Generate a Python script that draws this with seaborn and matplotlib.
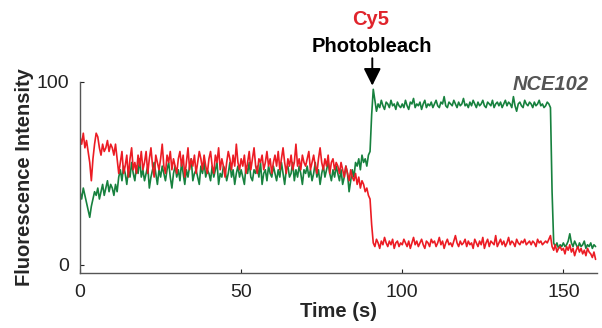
import numpy as np
import pandas as pd
import matplotlib
matplotlib.use("Agg")
import matplotlib.pyplot as plt
import seaborn as sns

# Traces, one value per 0.5 s frame
frame_time = 0.5
red_trace = [
    70, 66, 72, 64, 68, 62, 56, 46, 58, 66, 72, 70, 64, 60, 66, 62, 64, 68, 62, 66,
    64, 60, 66, 58, 50, 56, 62, 50, 54, 60, 48, 58, 64, 52, 56, 50, 60, 54, 62, 52,
    56, 62, 50, 58, 64, 54, 48, 60, 56, 52, 58, 66, 54, 50, 60, 56, 62, 52, 58, 54,
    50, 58, 62, 54, 60, 48, 56, 64, 52, 58, 54, 60, 50, 56, 62, 58, 52, 60, 54, 50,
    58, 62, 54, 50, 60, 56, 64, 52, 58, 54, 48, 56, 62, 58, 52, 60, 54, 66, 56, 52,
    58, 54, 60, 50, 56, 62, 52, 58, 64, 54, 50, 58, 56, 60, 52, 56, 62, 54, 58, 50,
    56, 60, 54, 62, 52, 58, 64, 56, 50, 58, 54, 60, 52, 56, 66, 54, 58, 52, 60, 56,
    54, 58, 62, 52, 56, 60, 54, 50, 58, 64, 56, 52, 58, 54, 60, 50, 56, 58, 52, 56,
    54, 50, 56, 52, 48, 54, 50, 46, 52, 48, 46, 50, 44, 48, 42, 46, 44, 40, 42, 38,
    36, 22, 12, 10, 14, 12, 9, 13, 11, 15, 12, 10, 13, 11, 14, 9, 12, 13, 10, 12,
    11, 14, 12, 10, 13, 9, 12, 15, 11, 13, 10, 12, 14, 11, 9, 13, 12, 10, 14, 12,
    13, 10, 12, 15, 11, 13, 9, 12, 14, 11, 12, 10, 13, 16, 12, 10, 13, 11, 12, 14,
    10, 13, 11, 12, 9, 14, 12, 10, 13, 11, 15, 9, 12, 14, 10, 13, 12, 11, 16, 10,
    12, 14, 11, 13, 10, 12, 15, 11, 13, 12, 10, 14, 12, 11, 13, 12, 14, 11, 12, 13,
    11, 13, 12, 10, 14, 12, 13, 11, 12, 13, 12, 14, 16, 10, 8, 11, 7, 9, 10, 8,
    9, 6, 10, 8, 11, 7, 9, 5, 8, 10, 7, 9, 6, 8, 5, 9, 7, 6, 4, 7,
    3,
]
green_trace = [
    40, 36, 42, 38, 34, 30, 26, 32, 36, 40, 38, 42, 36, 40, 44, 38, 42, 46, 40, 44,
    42, 38, 44, 40, 48, 52, 46, 54, 50, 44, 52, 48, 56, 50, 46, 54, 50, 58, 48, 52,
    46, 50, 54, 42, 48, 52, 56, 50, 44, 52, 48, 54, 50, 46, 52, 56, 48, 42, 50, 54,
    48, 52, 46, 56, 50, 44, 52, 48, 54, 58, 46, 50, 52, 48, 44, 54, 50, 56, 48, 52,
    50, 46, 54, 48, 52, 56, 44, 50, 48, 54, 52, 46, 50, 56, 48, 52, 44, 50, 54, 48,
    52, 48, 44, 54, 50, 56, 48, 46, 52, 50, 54, 48, 56, 44, 50, 52, 46, 54, 50, 48,
    54, 50, 46, 52, 48, 56, 50, 44, 52, 54, 48, 50, 56, 46, 52, 48, 54, 50, 44, 52,
    50, 54, 48, 52, 46, 50, 56, 48, 52, 44, 50, 54, 48, 52, 56, 50, 46, 52, 48, 54,
    50, 46, 52, 44, 48, 54, 50, 40, 46, 52, 48, 56, 54, 58, 52, 60, 56, 58, 54, 60,
    62, 82, 96, 90, 84, 88, 86, 90, 87, 85, 89, 88, 86, 90, 87, 88, 85, 89, 87, 86,
    88, 86, 90, 87, 85, 89, 88, 91, 86, 88, 87, 89, 85, 88, 90, 86, 88, 87, 89, 86,
    88, 90, 87, 86, 89, 88, 92, 87, 86, 89, 88, 87, 90, 88, 86, 89, 87, 88, 91, 87,
    88, 86, 89, 87, 90, 88, 86, 89, 87, 88, 90, 87, 86, 89, 88, 87, 90, 86, 88, 89,
    87, 89, 86, 88, 90, 87, 89, 88, 86, 92, 87, 84, 88, 89, 87, 86, 90, 88, 87, 89,
    88, 86, 89, 87, 88, 90, 87, 88, 86, 87, 89, 88, 86, 40, 12, 10, 12, 9, 11, 10,
    12, 10, 11, 13, 17, 12, 10, 13, 11, 9, 12, 10, 11, 13, 9, 11, 10, 12, 9, 11,
    10,
]
time_s = np.arange(len(red_trace)) * frame_time

x_ticks = [0, 50, 100, 150]
y_ticks = [0, 100]
bleach_time = 90.7

df = pd.DataFrame({"Time": time_s, "Red": red_trace, "Green": green_trace})

sns.set_style("ticks")
plt.rcParams['font.family'] = ['Liberation Sans', 'DejaVu Sans']

fig = plt.figure(figsize=(6.02, 3.28), dpi=100)
ax = fig.add_axes([0.133, 0.168, 0.859, 0.582])

sns.lineplot(data=df, x="Time", y="Green", color="#17813e", linewidth=1.2, ax=ax)
sns.lineplot(data=df, x="Time", y="Red", color="#ec1c24", linewidth=1.2, ax=ax)

ax.set_xlim(0, 160.5)
ax.set_ylim(-4.4, 100)
ax.set_xticks(x_ticks)
ax.set_yticks(y_ticks)
ax.tick_params(axis='both', direction='in', length=3, width=0.8, labelsize=14,
               colors='#222222')
ax.tick_params(axis='x', pad=8)
ax.tick_params(axis='y', pad=8)
for side in ['top', 'right']:
    ax.spines[side].set_visible(False)
for side in ['left', 'bottom']:
    ax.spines[side].set_color('#555555')
    ax.spines[side].set_linewidth(1.0)

ax.set_xlabel('Time (s)', fontsize=14.5, fontweight='bold', labelpad=1)
ax.set_ylabel('Fluorescence Intensity', fontsize=14.5, fontweight='bold', labelpad=2)

# Annotations
ax.annotate('', xy=(bleach_time, 96.5), xytext=(bleach_time, 114.5),
            arrowprops=dict(arrowstyle='-|>', color='black', lw=1.4, mutation_scale=26),
            annotation_clip=False)
ax.text(bleach_time, 116.4, 'Photobleach', ha='center', va='baseline', fontsize=14.5,
        fontweight='bold', color='black', clip_on=False)
ax.text(bleach_time - 0.5, 131, 'Cy5', ha='center', va='baseline', fontsize=14.5,
        fontweight='bold', color='#e0242c', clip_on=False)
ax.text(157.8, 95.6, 'NCE102', ha='right', va='baseline', fontsize=14.5,
        fontweight='bold', fontstyle='italic', color='#555555', clip_on=False)

plt.savefig("out.png", dpi=100)
